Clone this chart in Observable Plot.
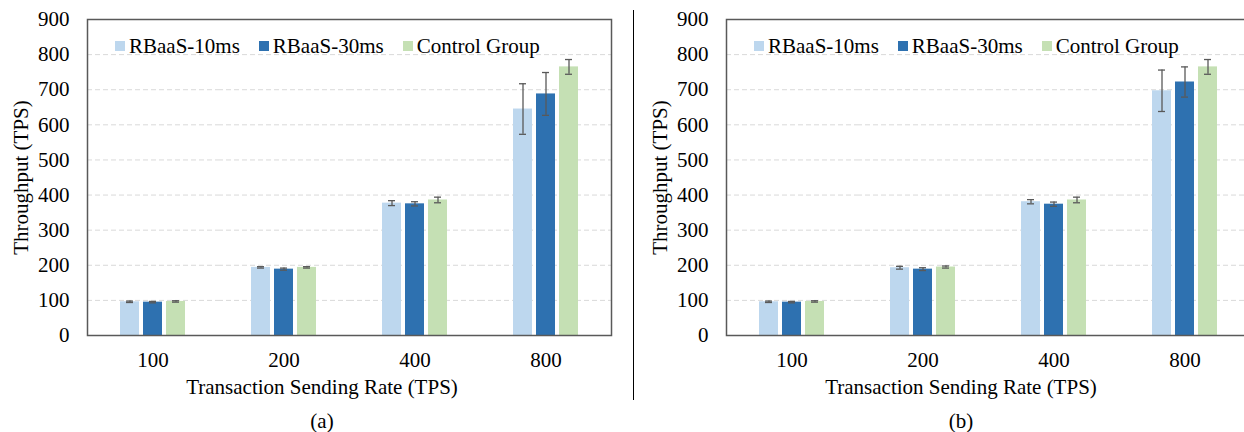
<!DOCTYPE html>
<html>
<head>
<meta charset="utf-8">
<script src="https://cdn.jsdelivr.net/npm/d3@7"></script>
<script src="https://cdn.jsdelivr.net/npm/@observablehq/plot@0.6"></script>
<style>
html, body { margin: 0; padding: 0; background: #fff; }
#wrap { position: relative; width: 1244px; height: 432px; overflow: hidden; background: #fff; font-family: "Liberation Serif", "Times New Roman", serif; color: #000; }
.panel { position: absolute; top: 0; width: 644px; height: 432px; }
.panel .chart { position: absolute; left: 0; top: 0; }
#wrap .chart svg { font-family: "Liberation Serif", "Times New Roman", serif !important; font-size: 21px !important; }
.panel .legendBox { position: absolute; left: 115px; top: 29px; }
.panel .xtitle { position: absolute; left: 0; width: 644px; top: 375px; line-height: 24px; font-size: 21px; text-align: center; }
.panel .cap { position: absolute; left: 0; width: 644px; top: 409px; line-height: 24px; font-size: 21px; text-align: center; }
#divider { position: absolute; left: 633px; top: 10px; height: 390px; width: 0; border-left: 1.5px solid #000; }
#wrap .legendBox, #wrap .legendBox * { font-family: "Liberation Serif", "Times New Roman", serif !important; font-size: 21px !important; color: #000 !important; }
#wrap .legendBox > div { margin: 0 !important; white-space: nowrap; line-height: 24px; }
#wrap .legendBox span { margin-right: 19px !important; }
#wrap .legendBox span > svg { margin-right: 4px !important; }
</style>
</head>
<body>
<div id="wrap">
  <div class="panel" id="pa"><div class="chart"></div><div class="legendBox"></div><div class="xtitle"></div><div class="cap"></div></div>
  <div id="divider"></div>
  <div class="panel" id="pb" style="left:639px"><div class="chart"></div><div class="legendBox"></div><div class="xtitle"></div><div class="cap"></div></div>
</div>
<script>
// ---- data ----
const rates = ["100", "200", "400", "800"];
const series = ["RBaaS-10ms", "RBaaS-30ms", "Control Group"];
const colors = ["#BDD7EE", "#2E71B0", "#C5E0B4"];
const yTicks = [0, 100, 200, 300, 400, 500, 600, 700, 800, 900];
const gridVals = [100, 200, 300, 400, 500, 600, 700, 800];

// panel (a)
const a10 = [96, 194, 377, 645];
const a10Err = [2, 2, 7, 72];
const a30 = [95, 189, 375, 688];
const a30Err = [2, 3, 6, 61];
const aCtrl = [97, 194, 386, 765];
const aCtrlErr = [2, 2, 8, 21];

// panel (b)
const b10 = [96, 193, 381, 697];
const b10Err = [2, 4, 6, 59];
const b30 = [95, 189, 374, 722];
const b30Err = [2, 4, 6, 43];
const bCtrl = [97, 195, 386, 765];
const bCtrlErr = [2, 3, 8, 21];

const xTitle = "Transaction Sending Rate (TPS)";
const yTitle = "Throughput (TPS)";

function rows(vals, errs) {
  return rates.flatMap((r, i) => series.map((s, j) => ({rate: r, series: s, value: vals[j][i], err: errs[j][i]})));
}

const serif = "Liberation Serif, Times New Roman, serif";

function chart(data) {
  const errStroke = "#595959";
  return Plot.plot({
    width: 622, height: 375,
    marginTop: 19, marginBottom: 40, marginLeft: 86, marginRight: 10,
    style: "font-family: 'Liberation Serif', serif; font-size: 21px; color: #000; background: #fff; overflow: visible;",
    fx: {domain: rates, paddingInner: 0, paddingOuter: 0, label: null},
    x: {domain: series, paddingInner: 0.154, paddingOuter: 1.357, axis: null},
    y: {domain: [0, 900]},
    color: {domain: series, range: colors},
    marks: [
      Plot.ruleY(gridVals, {y: d => d, stroke: "#d9d9d9", strokeWidth: 1, strokeDasharray: "5,3"}),
      Plot.barY(data, {fx: "rate", x: "series", y: "value", fill: "series"}),
      Plot.ruleX(data, {fx: "rate", x: "series", y1: d => d.value - d.err, y2: d => d.value + d.err, stroke: errStroke, strokeWidth: 1.3}),
      Plot.tickY(data, {fx: "rate", x: "series", y: d => d.value - d.err, stroke: errStroke, strokeWidth: 1.3, insetLeft: 6, insetRight: 6}),
      Plot.tickY(data, {fx: "rate", x: "series", y: d => d.value + d.err, stroke: errStroke, strokeWidth: 1.3, insetLeft: 6, insetRight: 6}),
      Plot.frame({facet: "super", stroke: "#595959", strokeWidth: 1.5}),
      Plot.axisY({ticks: yTicks, tickSize: 0, tickPadding: 18, fontSize: 21, fontFamily: serif, fill: "#000",
        label: yTitle, labelAnchor: "center", labelOffset: 74, labelArrow: "none"}),
      Plot.axisFx({anchor: "bottom", tickSize: 0, tickPadding: 17, fontSize: 21, fontFamily: serif, fill: "#000", label: null})
    ]
  });
}

function build(id, data, cap) {
  const root = document.getElementById(id);
  root.querySelector(".chart").appendChild(chart(data));
  const leg = Plot.legend({color: {domain: series, range: colors}, legend: "swatches", swatchSize: 10});
  root.querySelector(".legendBox").appendChild(leg);
  root.querySelector(".xtitle").textContent = xTitle;
  root.querySelector(".cap").textContent = cap;
}

build("pa", rows([a10, a30, aCtrl], [a10Err, a30Err, aCtrlErr]), "(a)");
build("pb", rows([b10, b30, bCtrl], [b10Err, b30Err, bCtrlErr]), "(b)");
</script>
</body>
</html>
